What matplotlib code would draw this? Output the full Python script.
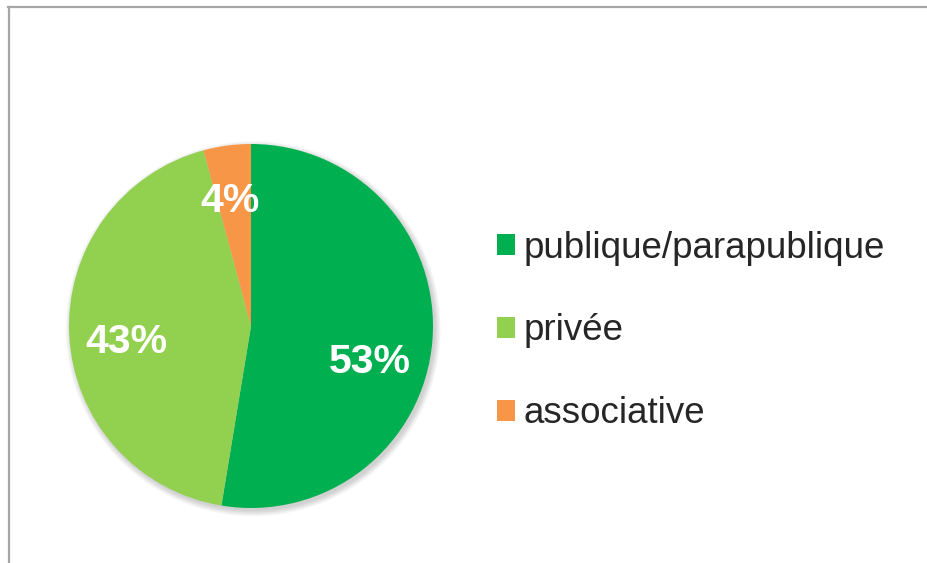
import numpy as np
import matplotlib
matplotlib.use('Agg')
import matplotlib.pyplot as plt
from matplotlib.lines import Line2D
from matplotlib.patches import Circle

plt.rcParams['font.family'] = ['Liberation Sans', 'DejaVu Sans']

# data
labels = ['publique/parapublique', 'privée', 'associative']
values = [52.6, 43.2, 4.2]
colors = ['#00B050', '#92D050', '#F79646']

W, H = 927, 563
fig = plt.figure(figsize=(W / 100, H / 100), dpi=100)

# outer frame (only top and left visible)
fig.add_artist(Line2D([8 / W, 1], [1 - 7 / H, 1 - 7 / H], color='#A6A6A6', lw=1.6))
fig.add_artist(Line2D([8.5 / W, 8.5 / W], [0, 1 - 7 / H], color='#A6A6A6', lw=1.6))

# pie axes: center (251, 326), radius 182 px
cx, cy, r = 251, 326, 182
ax = fig.add_axes([(cx - r) / W, (H - cy - r) / H, 2 * r / W, 2 * r / H])

# soft shadow
for k in range(6):
    ax.add_patch(Circle((0.012, -0.015), 1.0 + 0.006 * k, color='#000000',
                        alpha=0.03, lw=0, zorder=0, clip_on=False))

wedges, texts, autotexts = ax.pie(values, colors=colors, startangle=90,
                                  counterclock=False, radius=1,
                                  autopct=lambda p: '%d%%' % round(p),
                                  pctdistance=0.7,
                                  wedgeprops=dict(linewidth=0),
                                  textprops=dict(color='white', fontsize=29.5,
                                                 fontweight='bold'))
for w in wedges:
    w.set_zorder(2)
for t in autotexts:
    t.set_zorder(3)
autotexts[0].set_position((0.655, -0.20))
autotexts[1].set_position((-0.685, -0.09))
autotexts[2].set_position((-0.115, 0.685))

ax.set_xlim(-1, 1)
ax.set_ylim(-1, 1)
ax.set_aspect('equal')
ax.axis('off')

leg = fig.legend(wedges, labels, loc='center left',
                 bbox_to_anchor=(497 / W, 1 - 331 / H),
                 frameon=False, fontsize=26.5, handlelength=0.5,
                 handleheight=0.5, handletextpad=0.22, labelspacing=1.3,
                 borderpad=0, borderaxespad=0)
for t in leg.get_texts():
    t.set_color('#262626')

fig.savefig('out.png', dpi=100)
